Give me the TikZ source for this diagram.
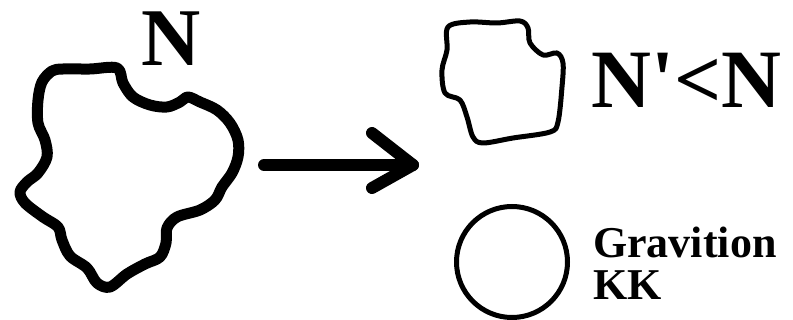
\documentclass[tikz,border=0pt]{standalone}
\usepackage{fontspec}
\usetikzlibrary{calc}
\newfontfamily\tnr{Liberation Serif}
\begin{document}
\begin{tikzpicture}[x=1pt,y=-1pt,
  blob/.style={line width=#1, line join=round, line cap=round},
  lbl/.style={inner sep=0pt, font=\tnr\bfseries}]
\useasboundingbox (0,0) rectangle (793,320);
% big blob
\draw[blob=11pt] plot[smooth cycle, tension=0.55] coordinates {
 (63,69) (90,69) (117,68) (123,83) (133,97) (150,105) (167,107) (180,102)
 (188,97) (200,102) (217,110) (230,123) (238,140) (238,157) (232,173)
 (222,187) (215,200) (200,210) (177,217) (167,228) (166,243) (160,257)
 (145,264) (127,274) (110,287) (97,283) (87,268) (70,256) (62,240)
 (58,227) (43,217) (25,203) (20,192) (27,182) (38,173) (47,157) (45,140)
 (38,123) (38,100) (42,82) (52,71)};
% small blob
\draw[blob=5pt] plot[smooth cycle, tension=0.55] coordinates {
 (448,27) (470,22) (497,23) (520,21) (528,28) (530,43) (543,55) (557,53)
 (563,63) (562,87) (558,122) (550,132) (513,138) (483,143) (473,137)
 (467,117) (460,100) (445,93) (442,70) (447,50)};
% circle
\draw[line width=5pt] (512,262) circle[radius=55.5];
% arrow
\coordinate (as) at (264,165);
\coordinate (ae) at (413,165);
\draw[line width=12pt, line cap=round] (as) -- (ae);
\draw[line width=12pt, line cap=round, line join=round]
  ($(ae)+(-41,-32)$) -- (ae) -- ($(ae)+(-41,23)$);
% texts
\node[lbl, anchor=base, font=\tnr\bfseries\fontsize{82}{82}\selectfont] (n) at (171,66) {N};
\node[lbl, anchor=base west, font=\tnr\bfseries\fontsize{83}{83}\selectfont] (nn) at (591,108) {N'<N};
\node[lbl, anchor=base west, font=\tnr\bfseries\fontsize{44}{44}\selectfont] (grav) at (593,258) {Gravition};
\node[lbl, anchor=base west, font=\tnr\bfseries\fontsize{44}{44}\selectfont] (kk) at (593,300) {KK};
\end{tikzpicture}
\end{document}
